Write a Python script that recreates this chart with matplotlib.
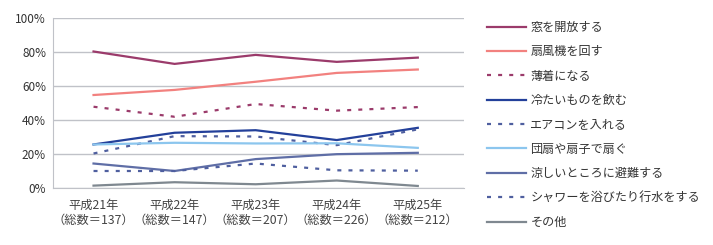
import matplotlib
matplotlib.use("Agg")
from matplotlib import pyplot as plt
import numpy as np

plt.rcParams['font.family'] = ['Noto Sans CJK JP', 'DejaVu Sans']

years = ['平成21年\n（総数＝137）', '平成22年\n（総数＝147）', '平成23年\n（総数＝207）',
         '平成24年\n（総数＝226）', '平成25年\n（総数＝212）']

labels = ['窓を開放する', '扇風機を回す', '薄着になる', '冷たいものを飲む', 'エアコンを入れる',
          '団扇や扇子で扇ぐ', '涼しいところに避難する', 'シャワーを浴びたり行水をする', 'その他']

mado = [80.3, 73.0, 78.3, 74.2, 76.7]
senpuki = [54.7, 57.7, 62.5, 67.7, 69.7]
usugi = [47.8, 41.9, 49.4, 45.5, 47.6]
tsumetai = [25.6, 32.5, 34.0, 28.2, 35.4]
aircon = [20.3, 30.5, 30.3, 25.2, 34.5]
uchiwa = [25.6, 26.6, 26.2, 26.3, 23.6]
suzushii = [14.4, 10.0, 17.0, 19.9, 20.7]
shower = [10.0, 10.0, 14.4, 10.4, 10.2]
sonota = [1.4, 3.4, 2.2, 4.4, 1.2]

series = [mado, senpuki, usugi, tsumetai, aircon, uchiwa, suzushii, shower, sonota]
colors = ['#9b3b6b', '#f2817f', '#9b3b6b', '#23409a', '#4f5f9f',
          '#8cc6ee', '#5f6ea6', '#4f5f9f', '#7f8890']
dashed = [False, False, True, False, True, False, False, True, False]

fig = plt.figure(figsize=(7.13, 2.45), dpi=100)
ax = fig.add_axes([53 / 713, 1 - 188 / 245, 411 / 713, 170 / 245])

x = np.arange(len(years)) + 0.5
for vals, lab, c, d in zip(series, labels, colors, dashed):
    if d:
        ax.plot(x, vals, color=c, lw=1.6, dashes=(1.8, 3.2), label=lab)
    else:
        ax.plot(x, vals, color=c, lw=1.6, label=lab)

ax.set_xlim(0, 5.07)
ax.set_ylim(0, 100)
ax.set_yticks(range(0, 101, 20))
ax.set_yticklabels([f'{v}%' for v in range(0, 101, 20)], fontsize=8.5, color='#333333')
ax.set_xticks(x)
ax.set_xticklabels(years, fontsize=8.8, color='#444444', linespacing=1.15)
ax.tick_params(axis='y', length=0, pad=5)
ax.tick_params(axis='x', length=0, pad=8)
ax.grid(axis='y', color='#c0c2c8', lw=1)
for s in ['top', 'right']:
    ax.spines[s].set_visible(False)
ax.spines['left'].set_color('#c0c2c8')
ax.spines['bottom'].set_color('#c0c2c8')
ax.set_axisbelow(True)

fig.legend(loc='upper left', bbox_to_anchor=(476 / 713, 1 - 10 / 245), frameon=False,
           fontsize=8.7, handlelength=3.2, handletextpad=0.4, labelspacing=0.94,
           labelcolor='#333333')

fig.savefig('out.png', dpi=100)
